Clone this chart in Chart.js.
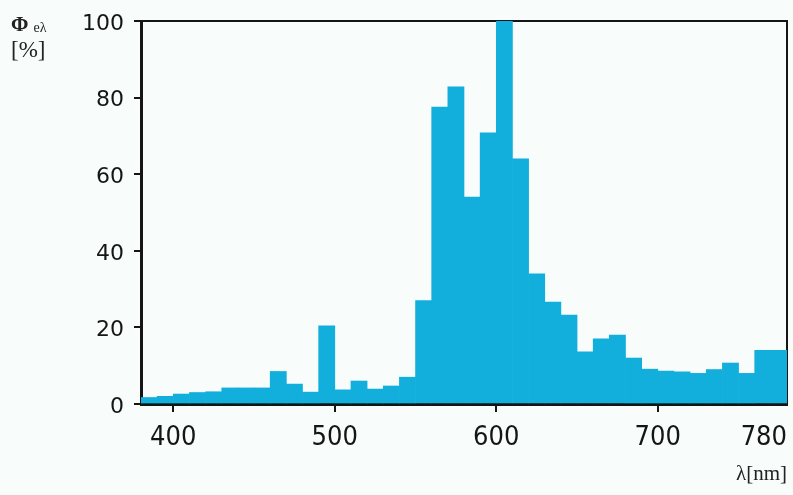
<!DOCTYPE html>
<html>
<head>
<meta charset="utf-8">
<script src="https://cdn.jsdelivr.net/npm/chart.js@4.4.0/dist/chart.umd.min.js"></script>
<style>
  body { margin: 0; background: #f8fdfb; }
  #wrap { position: relative; width: 793px; height: 495px; }
  .ytitle { position: absolute; left: 11px; top: 14px; font-family: 'Liberation Serif', 'DejaVu Serif', serif; color: #222; line-height: 1; }
  .ytitle .phi { font-size: 21px; font-weight: bold; }
  .ytitle sub { font-size: 14px; vertical-align: baseline; position: relative; top: 1px; margin-left: 5px; }
  .ytitle .unit { display: block; font-size: 23px; margin-top: 3px; }
</style>
</head>
<body>
<div id="wrap">
  <canvas id="chart"></canvas>
  <div class="ytitle"><span class="phi">Φ</span><sub>eλ</sub><span class="unit">[%]</span></div>
</div>
<script>
// lower edge of each 10 nm band
const bands = [
  380, 390, 400, 410, 420, 430, 440, 450, 460, 470,
  480, 490, 500, 510, 520, 530, 540, 550, 560, 570,
  580, 590, 600, 610, 620, 630, 640, 650, 660, 670,
  680, 690, 700, 710, 720, 730, 740, 750, 760, 770
];
// relative spectral power in %
const power = [
  1.7, 2.0, 2.6, 3.0, 3.2, 4.2, 4.2, 4.2, 8.5, 5.2,
  3.1, 20.4, 3.7, 6.0, 3.9, 4.7, 7.0, 27.0, 77.5, 82.8,
  54.0, 70.8, 100, 64.0, 34.0, 26.6, 23.2, 13.6, 17.0, 18.0,
  12.0, 9.1, 8.6, 8.4, 8.0, 9.0, 10.7, 8.0, 14.0, 14.0
];
const xTicks = [400, 500, 600, 700, 780];
const yTicks = [0, 20, 40, 60, 80, 100];

const xMin = 380, xMax = 780;
const ink = '#151515';

new Chart(document.getElementById('chart'), {
  type: 'bar',
  data: {
    datasets: [{
      data: bands.map((b, i) => ({ x: b + 5, y: power[i] })),
      backgroundColor: '#12afdc',
      borderWidth: 0,
      barPercentage: 1,
      categoryPercentage: 1,
      grouped: false
    }]
  },
  options: {
    responsive: true,
    maintainAspectRatio: false,
    animation: false,
    layout: { padding: { left: 0, right: 6, top: 21, bottom: 0 } },
    plugins: { legend: { display: false }, tooltip: { enabled: false } },
    scales: {
      x: {
        type: 'linear',
        min: xMin,
        max: xMax,
        offset: false,
        afterBuildTicks: s => { s.ticks = [xMin, ...xTicks].map(v => ({ value: v })); },
        afterFit: s => { s.height = 91; s.paddingLeft = 0; s.paddingRight = 0; },
        ticks: {
          align: 'inner',
          padding: 10,
          color: ink,
          font: { family: "'Liberation Sans Narrow', 'DejaVu Sans Condensed', sans-serif", size: 27 },
          callback: v => (v === xMin ? '' : String(v))
        },
        grid: {
          offset: false,
          drawOnChartArea: false,
          drawTicks: true,
          tickLength: 8,
          lineWidth: 2,
          color: ctx => (ctx.tick && (ctx.tick.value === xMin || ctx.tick.value === xMax) ? 'rgba(0,0,0,0)' : ink)
        },
        border: { display: true, color: ink, width: 3 },
        title: {
          display: true,
          text: 'λ[nm]',
          align: 'end',
          color: '#222',
          font: { family: "'Liberation Serif', 'DejaVu Serif', serif", size: 21 },
          padding: { top: 0, bottom: 8 }
        }
      },
      y: {
        min: 0,
        max: 100,
        afterBuildTicks: s => { s.ticks = yTicks.map(v => ({ value: v })); },
        afterFit: s => { s.width = 141; s.paddingTop = 0; s.paddingBottom = 0; },
        ticks: {
          padding: 10,
          labelOffset: 3,
          color: ink,
          font: { family: "'DejaVu Sans', sans-serif", size: 22 }
        },
        grid: { drawOnChartArea: false, drawTicks: true, tickLength: 7, lineWidth: 2, color: ink },
        border: { display: true, color: ink, width: 3 }
      },
      x2: {
        type: 'linear', position: 'top', min: xMin, max: xMax,
        afterFit: s => { s.height = 0; },
        ticks: { display: false },
        grid: { drawOnChartArea: false, drawTicks: false },
        border: { display: true, color: ink, width: 2 }
      },
      y2: {
        position: 'right', min: 0, max: 100,
        afterFit: s => { s.width = 0; },
        ticks: { display: false },
        grid: { drawOnChartArea: false, drawTicks: false },
        border: { display: true, color: ink, width: 2 }
      }
    }
  }
});
</script>
</body>
</html>
